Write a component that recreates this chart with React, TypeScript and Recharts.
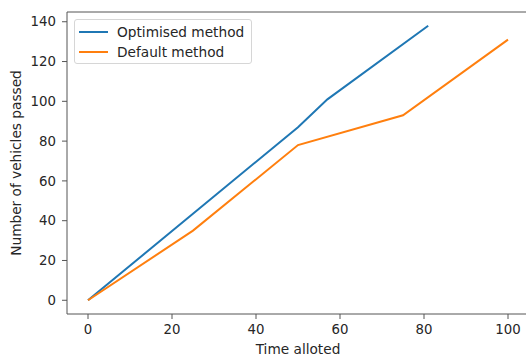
import { LineChart, Line, XAxis, YAxis, Label, ReferenceLine } from 'recharts'

const optimisedTime = [0, 50, 57, 81]
const optimisedPassed = [0, 87, 101, 138]
const defaultTime = [0, 25, 50, 75, 100]
const defaultPassed = [0, 35, 78, 93, 131]
const xTicks = [0, 20, 40, 60, 80, 100]
const yTicks = [0, 20, 40, 60, 80, 100, 120, 140]

const seriesNames = ['Optimised method', 'Default method']
const seriesColors = ['#1f77b4', '#ff7f0e']

const optimisedData = optimisedTime.map((t, i) => ({ time: t, passed: optimisedPassed[i] }))
const defaultData = defaultTime.map((t, i) => ({ time: t, passed: defaultPassed[i] }))

const yMax = 144.9
const font = '"DejaVu Sans", sans-serif'
const spine = '#555'
const tickStyle = { fill: '#262626', fontSize: 13.3, fontFamily: font }

function ChartLegend() {
  return (
    <div
      style={{
        position: 'absolute',
        left: 74,
        top: 19,
        width: 178,
        height: 45,
        border: '1px solid #d6d6d6',
        borderRadius: 3,
        background: 'rgba(255,255,255,0.85)',
        fontFamily: font,
        fontSize: 13.7,
        color: '#262626',
        boxSizing: 'border-box',
      }}
    >
      {seriesNames.map((name, i) => (
        <div
          key={name}
          style={{ position: 'absolute', left: 4, top: 3 + i * 20, height: 18, display: 'flex', alignItems: 'center' }}
        >
          <span style={{ display: 'inline-block', width: 29, height: 2, background: seriesColors[i], marginRight: 9 }} />
          <span>{name}</span>
        </div>
      ))}
    </div>
  )
}

export default function App() {
  return (
    <div
      style={{
        position: 'absolute',
        left: 0,
        top: 0,
        width: 526,
        height: 356,
        overflow: 'hidden',
        background: '#fff',
      }}
    >
      <LineChart width={536} height={356} margin={{ top: 12, right: 7, bottom: 0, left: 0 }}>
        <XAxis
          dataKey="time"
          type="number"
          domain={[-5, 105]}
          ticks={xTicks}
          allowDataOverflow
          height={42}
          tickSize={5}
          tickMargin={6}
          tick={tickStyle}
          tickLine={{ stroke: spine }}
          axisLine={{ stroke: spine }}
        >
          <Label
            value="Time alloted"
            position="insideBottom"
            offset={2}
            style={{ fill: '#262626', fontSize: 13.7, fontFamily: font }}
          />
        </XAxis>
        <YAxis
          type="number"
          domain={[-6.9, yMax]}
          ticks={yTicks}
          allowDataOverflow
          width={67}
          tickSize={5}
          tickMargin={6}
          tick={tickStyle}
          tickLine={{ stroke: spine }}
          axisLine={{ stroke: spine }}
        >
          <Label
            value="Number of vehicles passed"
            angle={-90}
            position="insideLeft"
            offset={16}
            style={{ textAnchor: 'middle', fill: '#262626', fontSize: 13.7, fontFamily: font }}
          />
        </YAxis>
        <ReferenceLine y={yMax} stroke={spine} ifOverflow="extendDomain" />
        <Line
          data={optimisedData}
          dataKey="passed"
          name={seriesNames[0]}
          type="linear"
          stroke={seriesColors[0]}
          strokeWidth={2}
          dot={false}
          isAnimationActive={false}
        />
        <Line
          data={defaultData}
          dataKey="passed"
          name={seriesNames[1]}
          type="linear"
          stroke={seriesColors[1]}
          strokeWidth={2}
          dot={false}
          isAnimationActive={false}
        />
      </LineChart>
      <ChartLegend />
    </div>
  )
}
